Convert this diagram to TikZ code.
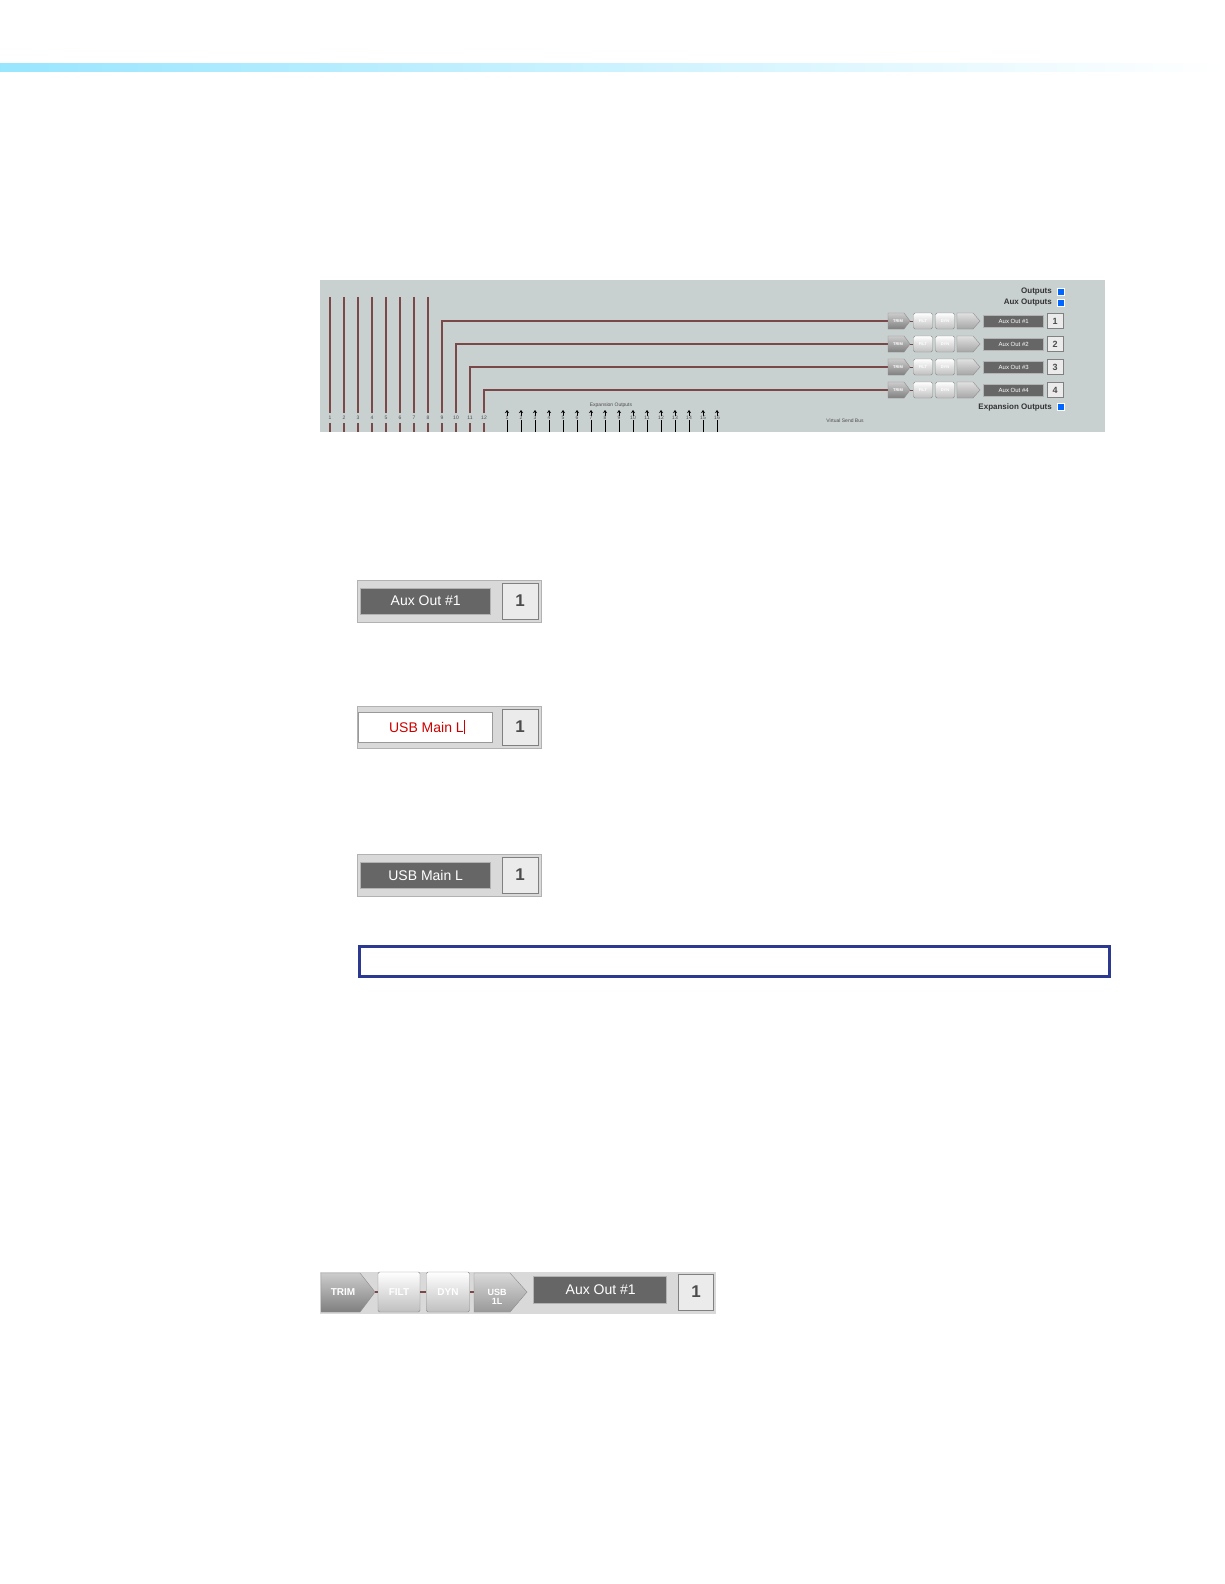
\documentclass[tikz,border=0pt]{standalone}
\usepackage{fontspec}
\setmainfont{Liberation Sans}
\usetikzlibrary{arrows.meta}
\begin{document}
\begin{tikzpicture}[x=1pt,y=-1pt,
  wire/.style={draw=wirec,line width=1.3pt},
  tiny/.style={font=\fontsize{5}{5}\selectfont,text=black!70,inner sep=0pt},
  lbl/.style={font=\fontsize{8}{8}\selectfont\bfseries,text=black!80,inner sep=0pt,anchor=east},
  blk/.style={draw=black!45,rounded corners=1.5pt,top color=white,bottom color=black!25,inner sep=0pt},
  tblk/.style={draw=black!45,top color=black!20,bottom color=black!50,inner sep=0pt},
  field/.style={fill=black!60,draw=black!30,inner sep=0pt},
  numbox/.style={draw=black!50,fill=black!8,inner sep=0pt},
  sq/.style={fill=blue!60!cyan,draw=white,inner sep=0pt,minimum size=7pt}]
\definecolor{wirec}{HTML}{7A4848}
\definecolor{panel}{HTML}{C9D0D0}
\useasboundingbox (0,0) rectangle (1224,1584);
\fill[left color=blue!25!cyan!40,right color=white] (0,64) rectangle (1224,72);
% panel
\node[fill=panel,minimum width=785pt,minimum height=152pt,inner sep=0pt,anchor=north west] (panel) at (320,280) {};
\foreach \i in {1,...,8}{
  \pgfmathsetmacro\xx{330+14*(\i-1)}
  \draw[wire] (\xx,297) -- (\xx,413);
  \draw[wire] (\xx,423) -- (\xx,432);
  \node[tiny] (in\i) at (\xx,418) {\i};}
\foreach \i/\yy in {9/321,10/344,11/367,12/390}{
  \pgfmathsetmacro\xx{330+14*(\i-1)}
  \coordinate (c\i) at (888,\yy);
  \draw[wire] (\xx,413) -- (\xx,\yy) -- (c\i);
  \draw[wire] (\xx,423) -- (\xx,432);
  \node[tiny] (in\i) at (\xx,418) {\i};}
\foreach \i in {1,...,16}{
  \pgfmathsetmacro\xx{507+14*(\i-1)}
  \coordinate (e\i) at (\xx,432);
  \draw[-{Stealth[length=3pt,width=4pt]},black,line width=0.8pt] (e\i) -- (\xx,410);
  \node[tiny,fill=panel,inner sep=0.3pt] (el\i) at (\xx,418) {\i};}
\node[tiny] (expo) at (611,405) {Expansion Outputs};
\node[tiny] (vsb) at (845,421) {Virtual Send Bus};
\node[lbl] (outs) at (1052,292) {Outputs};
\node[sq] (s1) at (1061,292) {};
\node[lbl] (auxo) at (1052,303) {Aux Outputs};
\node[sq] (s2) at (1061,303) {};
\node[lbl] (expl) at (1052,407) {Expansion Outputs};
\node[sq] (s3) at (1061,407) {};
\foreach \r/\yy in {1/321,2/344,3/367,4/390}{
  \draw[tblk] (888,\yy-8) -- (904,\yy-8) -- (910,\yy) -- (904,\yy+8) -- (888,\yy+8) -- cycle;
  \node[font=\fontsize{4}{4}\selectfont\bfseries,text=white] (t\r) at (898,\yy) {TRIM};
  \draw[wirec] (910,\yy) -- (913,\yy);
  \node[blk,minimum width=19pt,minimum height=16pt,font=\fontsize{4}{4}\selectfont\bfseries,text=white] (f\r) at (923,\yy) {FILT};
  \node[blk,minimum width=19pt,minimum height=16pt,font=\fontsize{4}{4}\selectfont\bfseries,text=white] (d\r) at (945,\yy) {DYN};
  \draw[tblk,top color=black!12,bottom color=black!35] (957,\yy-8) -- (973,\yy-8) -- (980,\yy) -- (973,\yy+8) -- (957,\yy+8) -- cycle;
  \node[field,minimum width=60pt,minimum height=12pt,anchor=west,font=\fontsize{6}{6}\selectfont,text=white] (a\r) at (983,\yy) {\hspace{1pt}Aux Out \#\r\hfill};
  \node[numbox,minimum width=16pt,minimum height=15pt,font=\fontsize{9}{9}\selectfont\bfseries,text=black!70] (n\r) at (1055,\yy) {\r};}
% middle widgets
\foreach \k/\yy/\txt in {1/601/Aux Out \#1,3/875/USB Main L}{
  \node[fill=black!15,draw=black!30,minimum width=184pt,minimum height=42pt,inner sep=0pt] (w\k) at (449,\yy) {};
  \node[field,minimum width=130pt,minimum height=26pt,anchor=west,font=\fontsize{14}{14}\selectfont,text=white] (wf\k) at (360,\yy) {\hspace{1pt}\txt\hfill};
  \node[numbox,minimum width=36pt,minimum height=36pt,font=\fontsize{17}{17}\selectfont\bfseries,text=black!70] (wn\k) at (520,\yy) {1};}
\node[fill=black!15,draw=black!30,minimum width=184pt,minimum height=42pt,inner sep=0pt] (w2) at (449,727) {};
\node[fill=white,draw=black!40,minimum width=134pt,minimum height=30pt,inner sep=0pt,anchor=west,font=\fontsize{14}{14}\selectfont,text=red!80!black] (wf2) at (358,727) {\hspace{3pt}USB Main L\rule[-2pt]{0.6pt}{14pt}\hfill};
\node[numbox,minimum width=36pt,minimum height=36pt,font=\fontsize{17}{17}\selectfont\bfseries,text=black!70] (wn2) at (520,727) {1};
\node[draw={rgb,255:red,43;green,57;blue,144},line width=3pt,minimum width=750pt,minimum height=30pt,inner sep=0pt,anchor=north west] (note) at (358,945) {};
% bottom strip
\node[fill=black!15,minimum width=396pt,minimum height=42pt,inner sep=0pt,anchor=north west] (strip) at (320,1272) {};
\draw[tblk] (321,1273) -- (360,1273) -- (375,1292) -- (360,1312) -- (321,1312) -- cycle;
\node[font=\fontsize{10}{10}\selectfont\bfseries,text=white] (bt) at (343,1292) {TRIM};
\draw[wirec,line width=2pt] (375,1292) -- (378,1292);
\node[blk,minimum width=42pt,minimum height=40pt,font=\fontsize{10}{10}\selectfont\bfseries,text=white] (bf) at (399,1292) {FILT};
\draw[wirec,line width=2pt] (420,1292) -- (427,1292);
\node[blk,minimum width=43pt,minimum height=40pt,font=\fontsize{10}{10}\selectfont\bfseries,text=white] (bd) at (448,1292) {DYN};
\draw[wirec,line width=2pt] (470,1292) -- (474,1292);
\draw[tblk,top color=black!15,bottom color=black!40] (474,1273) -- (510,1273) -- (527,1292) -- (510,1312) -- (474,1312) -- cycle;
\node[font=\fontsize{9}{9}\selectfont\bfseries,text=white,align=center] (bu) at (497,1297) {USB\\1L};
\node[field,minimum width=133pt,minimum height=27pt,anchor=west,font=\fontsize{14}{14}\selectfont,text=white] (bfd) at (533,1290) {\hspace{2pt}Aux Out \#1\hfill};
\node[numbox,minimum width=35pt,minimum height=36pt,font=\fontsize{17}{17}\selectfont\bfseries,text=black!70] (bn) at (696,1292) {1};
\end{tikzpicture}
\end{document}
